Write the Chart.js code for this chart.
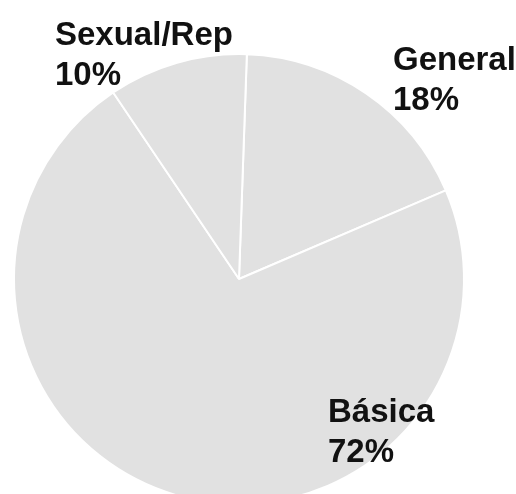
<!DOCTYPE html>
<html>
<head>
<meta charset="utf-8">
<script src="https://cdn.jsdelivr.net/npm/chart.js@4.4.1/dist/chart.umd.min.js"></script>
<style>
  html, body { margin:0; padding:0; background:#fff; overflow:hidden; }
  #wrap { width:516px; height:520px; position:relative; }
</style>
</head>
<body>
<div id="wrap"><canvas id="pieChart"></canvas></div>
<script>
// Slices, clockwise from the top
const categories = ['General', 'Básica', 'Sexual/Rep'];
const shares = [18, 72, 10];

// Label placement: offset of the first text line (left edge, baseline) from the pie centre
const labelOffsets = [
  { dx: 154, dy: -209 },
  { dx: 89, dy: 143 },
  { dx: -184, dy: -234 }
];
const lineHeight = 40;

// Draw "name / percent" next to each slice
const sliceLabels = {
  id: 'sliceLabels',
  afterDraw(chart) {
    const ctx = chart.ctx;
    const arcs = chart.getDatasetMeta(0).data;
    ctx.save();
    ctx.font = 'bold 33px "Liberation Sans", Arial, sans-serif';
    ctx.fillStyle = '#111';
    ctx.textAlign = 'left';
    ctx.textBaseline = 'alphabetic';
    arcs.forEach((arc, i) => {
      const x = arc.x + labelOffsets[i].dx;
      const y = arc.y + labelOffsets[i].dy;
      ctx.fillText(categories[i], x, y);
      ctx.fillText(shares[i] + '%', x, y + lineHeight);
    });
    ctx.restore();
  }
};

new Chart(document.getElementById('pieChart'), {
  type: 'pie',
  data: {
    labels: categories,
    datasets: [{
      data: shares,
      backgroundColor: '#e1e1e1',
      borderColor: '#ffffff',
      borderWidth: 2
    }]
  },
  options: {
    responsive: true,
    maintainAspectRatio: false,
    animation: false,
    events: [],
    rotation: 2,
    layout: { padding: { left: 13, right: 51, top: 53, bottom: 15 } },
    plugins: {
      legend: { display: false },
      tooltip: { enabled: false }
    }
  },
  plugins: [sliceLabels]
});
</script>
</body>
</html>
